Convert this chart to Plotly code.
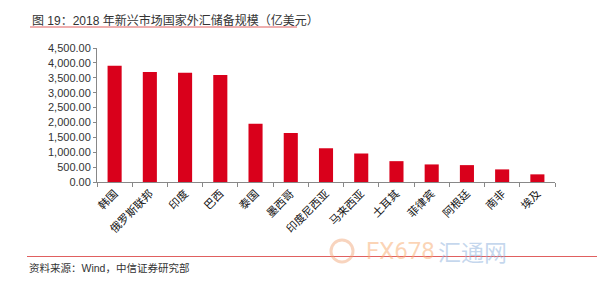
import plotly.graph_objects as go

categories = ["韩国", "俄罗斯联邦", "印度", "巴西", "泰国", "墨西哥", "印度尼西亚",
              "马来西亚", "土耳其", "菲律宾", "阿根廷", "南非", "埃及"]
reserves = [3900, 3690, 3667, 3590, 1956, 1645, 1133, 957, 700, 590, 567, 423, 257]
tick_vals = [0, 500, 1000, 1500, 2000, 2500, 3000, 3500, 4000, 4500]
tick_text = [f"{v:,.2f}" for v in tick_vals]

W, H = 597, 290
L, R, T, B = 97, 42, 48, 108
pw, ph = W - L - R, H - T - B

def px(x):
    return (x - L) / pw

def py(y):
    return (H - B - y) / ph

FONT = "Liberation Sans, Arial, Noto Sans CJK SC, sans-serif"

fig = go.Figure(go.Bar(
    x=categories, y=reserves, marker_color="#d9001b",
    marker_line_width=0, width=0.4,
))

fig.update_layout(
    width=W, height=H, margin=dict(l=L, r=R, t=T, b=B),
    paper_bgcolor="white", plot_bgcolor="white", showlegend=False,
    font=dict(family=FONT, size=11, color="#222"),
    xaxis=dict(
        type="category", tickangle=-45, showline=True, linecolor="#888", linewidth=1,
        ticks="outside", ticklen=4, tickcolor="#888", tickson="boundaries",
        tickfont=dict(size=11, color="#111"), showgrid=False,
        range=[-0.5, len(categories) - 0.5],
    ),
    yaxis=dict(
        range=[0, 4500], tickvals=tick_vals, ticktext=tick_text, showgrid=False,
        showline=True, linecolor="#888", linewidth=1, ticks="outside", ticklen=3,
        tickcolor="#888", tickfont=dict(size=11, color="#333"), zeroline=False,
    ),
    annotations=[
        dict(text="图 19：2018 年新兴市场国家外汇储备规模（亿美元）", xref="paper", yref="paper",
             x=px(30), y=py(20), xanchor="left", yanchor="middle", showarrow=False,
             font=dict(size=12, color="#333", family=FONT)),
        dict(text="资料来源：Wind，中信证券研究部", xref="paper", yref="paper",
             x=px(27), y=py(268), xanchor="left", yanchor="middle", showarrow=False,
             font=dict(size=10.5, color="#333", family=FONT)),
        dict(text="FX678", xref="paper", yref="paper",
             x=px(364), y=py(251), xanchor="left", yanchor="middle", showarrow=False,
             font=dict(size=24, color="rgba(248,170,110,0.5)", family="Roboto, sans-serif")),
        dict(text="汇通网", xref="paper", yref="paper",
             x=px(436), y=py(251), xanchor="left", yanchor="middle", showarrow=False,
             font=dict(size=23, color="rgba(140,175,220,0.5)", family="Noto Sans CJK SC")),
    ],
    shapes=[
        dict(type="line", xref="paper", yref="paper", x0=px(30), x1=px(297),
             y0=py(27), y1=py(27), line=dict(color="#e06060", width=1.2)),
        dict(type="line", xref="paper", yref="paper", x0=px(27), x1=px(597),
             y0=py(256.5), y1=py(256.5), line=dict(color="#e06060", width=1.2)),
        dict(type="circle", xref="paper", yref="paper", x0=px(331), x1=px(353),
             y0=py(262), y1=py(240), line=dict(color="rgba(240,160,110,0.45)", width=3)),
    ],
)

fig.write_html("out.html")
